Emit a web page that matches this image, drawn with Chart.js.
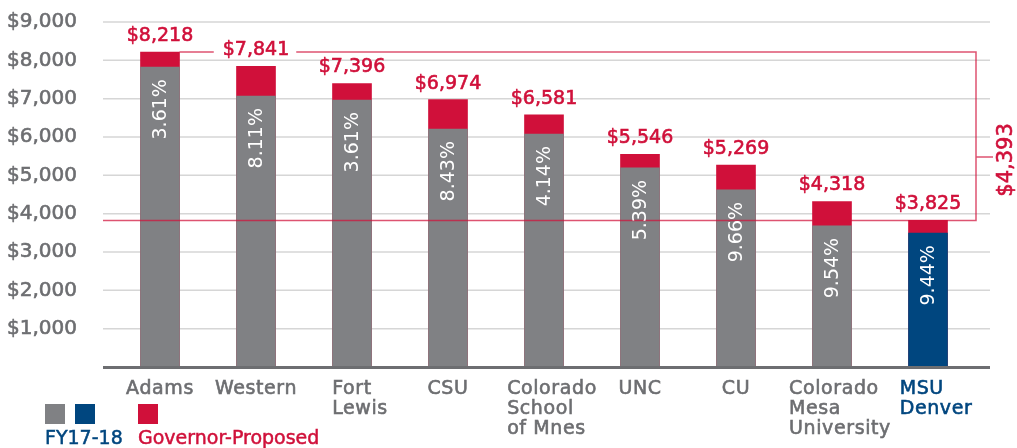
<!DOCTYPE html>
<html>
<head>
<meta charset="utf-8">
<script src="https://cdn.jsdelivr.net/npm/chart.js@4"></script>
<style>
  body { margin: 0; background: #fff; }
  #wrap { position: relative; width: 1017px; height: 448px; overflow: hidden; }
  #tuitionChart { position: absolute; left: 0; top: 0; }
  .sw { position: absolute; width: 20px; height: 20px; top: 404px; }
  .lg { position: absolute; top: 426px; font: 19px "DejaVu Sans", sans-serif; white-space: nowrap; -webkit-text-stroke: 0.5px currentColor; }
</style>
</head>
<body>
<div id="wrap">
  <canvas id="tuitionChart" width="1017" height="448"></canvas>
  <div class="sw" style="left:45px;background:#808184"></div>
  <div class="sw" style="left:75px;background:#00467f"></div>
  <div class="sw" style="left:138px;background:#d0103a"></div>
  <div class="lg" style="left:45px;color:#00467f">FY17-18</div>
  <div class="lg" style="left:138px;color:#d0103a">Governor-Proposed</div>
</div>
<script>
const categories = [['Adams'], ['Western'], ['Fort', 'Lewis'], ['CSU'], ['Colorado', 'School', 'of Mnes'],
    ['UNC'], ['CU'], ['Colorado', 'Mesa', 'University'], ['MSU', 'Denver']];
const fy1718 = [7823, 7068, 6964, 6208, 6078, 5193, 4620, 3682, 3492];
const proposed = [8218, 7841, 7396, 6974, 6581, 5546, 5269, 4318, 3825];
const increases = ['3.61%', '8.11%', '3.61%', '8.43%', '4.14%', '5.39%', '9.66%', '9.54%', '9.44%'];
const yTickValues = [1000, 2000, 3000, 4000, 5000, 6000, 7000, 8000, 9000];
const gapLabel = '$4,393';

const grey = '#808184';
const navy = '#00467f';
const red = '#d0103a';
const textGrey = '#6d6e71';
const fontFam = '"DejaVu Sans", sans-serif';

const money = v => '$' + v.toLocaleString('en-US');

// fill + thin stroke so the text looks a bit heavier
function heavyText(ctx, txt, x, y) {
    ctx.strokeStyle = ctx.fillStyle;
    ctx.lineWidth = 0.6;
    ctx.fillText(txt, x, y);
    ctx.strokeText(txt, x, y);
}

// grid + baseline wider than the bars area, drawn behind bars
const gridPlugin = {
    id: 'grid',
    beforeDatasetsDraw(chart) {
        const ctx = chart.ctx, y = chart.scales.y, area = chart.chartArea;
        const x0 = area.left - 9, x1 = area.right + 14;
        ctx.save();
        ctx.strokeStyle = '#d6d6d6';
        ctx.lineWidth = 1.5;
        yTickValues.forEach(v => {
            const py = y.getPixelForValue(v);
            ctx.beginPath(); ctx.moveTo(x0, py); ctx.lineTo(x1, py); ctx.stroke();
        });
        ctx.restore();
    },
    afterDatasetsDraw(chart) {
        const ctx = chart.ctx, y = chart.scales.y, area = chart.chartArea;
        ctx.save();
        ctx.strokeStyle = textGrey;
        ctx.lineWidth = 3;
        const py = y.getPixelForValue(0) + 0.5;
        ctx.beginPath(); ctx.moveTo(area.left - 9, py); ctx.lineTo(area.right + 14, py); ctx.stroke();
        ctx.restore();
    }
};

const labelPlugin = {
    id: 'labels',
    afterDraw(chart) {
        const ctx = chart.ctx, x = chart.scales.x, y = chart.scales.y, area = chart.chartArea;
        const greyMeta = chart.getDatasetMeta(0);
        const redMeta = chart.getDatasetMeta(1);
        ctx.save();

        // bracket from top bar to MSU Denver
        const half = greyMeta.data[0].width / 2;
        const yTop = y.getPixelForValue(proposed[0]);
        const yBot = y.getPixelForValue(proposed[proposed.length - 1]);
        const xr = area.right;
        ctx.font = '19px ' + fontFam;
        const gapW = ctx.measureText(money(proposed[1])).width + 16;
        const gx = x.getPixelForValue(1) - 1;
        ctx.strokeStyle = 'rgba(208,16,58,0.72)';
        ctx.lineWidth = 1.5;
        ctx.beginPath();
        ctx.moveTo(redMeta.data[0].x + half, yTop); ctx.lineTo(gx - gapW / 2, yTop);
        ctx.moveTo(gx + gapW / 2, yTop); ctx.lineTo(xr, yTop);
        ctx.lineTo(xr, yBot); ctx.lineTo(area.left - 9, yBot);
        const yMid = y.getPixelForValue(5480);
        ctx.moveTo(xr, yMid); ctx.lineTo(xr + 17, yMid);
        ctx.stroke();

        ctx.fillStyle = red;
        ctx.font = '21px ' + fontFam;
        ctx.save();
        ctx.translate(xr + 31, yMid + 3);
        ctx.rotate(-Math.PI / 2);
        ctx.textAlign = 'center';
        ctx.textBaseline = 'middle';
        heavyText(ctx, gapLabel, 0, 0);
        ctx.restore();

        // value labels above bars
        ctx.font = '19px ' + fontFam;
        ctx.textAlign = 'center';
        ctx.textBaseline = 'middle';
        redMeta.data.forEach((bar, i) => {
            heavyText(ctx, money(proposed[i]), bar.x, bar.y - 16);
        });

        // rotated percentages inside bars
        ctx.fillStyle = '#ffffff';
        greyMeta.data.forEach((bar, i) => {
            ctx.save();
            ctx.translate(bar.x + 1, bar.y + 12);
            ctx.rotate(-Math.PI / 2);
            ctx.textAlign = 'right';
            ctx.textBaseline = 'middle';
            ctx.fillText(increases[i], 0, 0);
            ctx.restore();
        });

        // category labels, lines left aligned inside a centred block
        ctx.font = '19px ' + fontFam;
        ctx.letterSpacing = '0.6px';
        ctx.textAlign = 'left';
        ctx.textBaseline = 'alphabetic';
        categories.forEach((lines, i) => {
            const w = Math.max(...lines.map(l => ctx.measureText(l).width));
            const cx = x.getPixelForValue(i) + (lines.length > 1 ? 8 : 0);
            ctx.fillStyle = i === categories.length - 1 ? navy : textGrey;
            lines.forEach((l, k) => heavyText(ctx, l, cx - w / 2, area.bottom + 27 + k * 20));
        });
        ctx.restore();
    }
};

new Chart(document.getElementById('tuitionChart'), {
    type: 'bar',
    data: {
        labels: categories,
        datasets: [{
            label: 'FY17-18',
            data: fy1718,
            backgroundColor: fy1718.map((v, i) => i === fy1718.length - 1 ? navy : grey),
            grouped: false,
            barThickness: 39,
            order: 0
        }, {
            label: 'Governor-Proposed',
            data: proposed,
            backgroundColor: red,
            grouped: false,
            barThickness: 39,
            order: 1
        }]
    },
    options: {
        responsive: false,
        animation: false,
        layout: { padding: { top: 22, right: 41, left: 0, bottom: 0 } },
        plugins: { legend: { display: false }, tooltip: { enabled: false } },
        scales: {
            x: {
                grid: { display: false },
                border: { display: false },
                ticks: { display: false },
                afterFit: s => { s.height = 81; }
            },
            y: {
                min: 0,
                max: 9000,
                grid: { display: false },
                border: { display: false },
                afterBuildTicks: s => { s.ticks = yTickValues.map(v => ({ value: v })); },
                afterFit: s => { s.width = 112; s.paddingTop = 0; s.paddingBottom = 0; },
                ticks: {
                    padding: 27,
                    color: textGrey,
                    textStrokeColor: textGrey,
                    textStrokeWidth: 0.6,
                    font: { family: fontFam, size: 20 },
                    callback: v => money(v)
                }
            }
        }
    },
    plugins: [gridPlugin, labelPlugin]
});
</script>
</body>
</html>
